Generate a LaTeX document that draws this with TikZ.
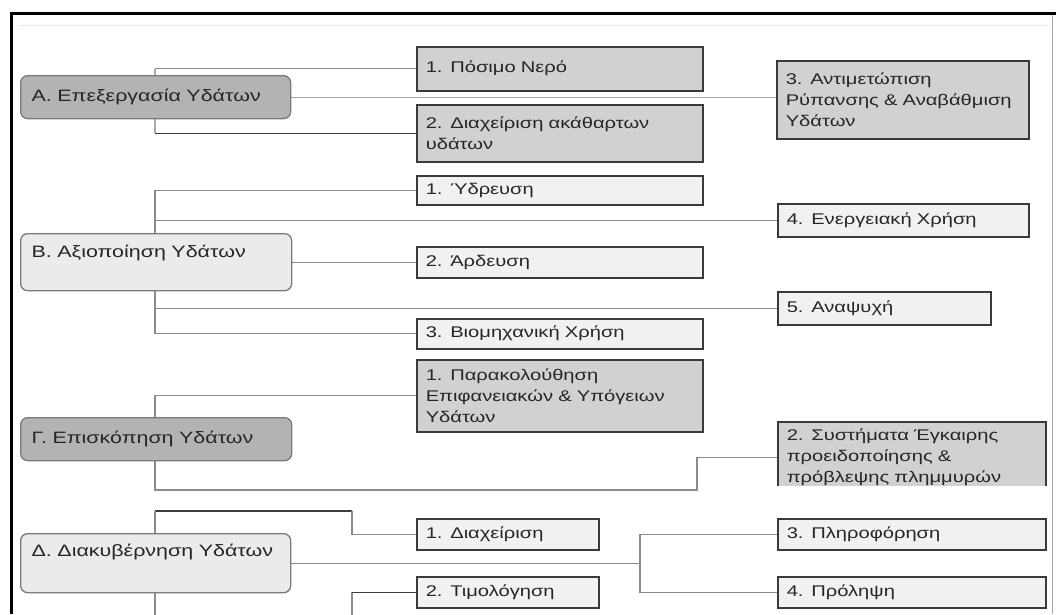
\documentclass[tikz,border=0pt]{standalone}
\usepackage{fontspec}
\newfontfamily\wfont[FakeStretch=1.3]{Liberation Sans}
\usetikzlibrary{backgrounds}
\definecolor{maindark}{HTML}{B3B3B3}
\definecolor{mainedge}{HTML}{7A7A7A}
\definecolor{mainlight}{HTML}{EBEBEB}
\definecolor{subfill}{HTML}{D1D1D1}
\definecolor{lightfill}{HTML}{F1F1F1}
\definecolor{subedge}{HTML}{3A3A3A}
\definecolor{txt}{HTML}{262626}
\definecolor{lnlight}{HTML}{ABABAB}
\definecolor{lnmid}{HTML}{8C8C8C}
\definecolor{lndark}{HTML}{3C3C3C}
\begin{document}
\begin{tikzpicture}[x=1pt,y=-1pt,
  box/.style={anchor=north west, inner xsep=9pt, inner ysep=2pt, align=left, text=txt,
    font=\wfont\fontsize{15.5}{21}\selectfont},
  subdark/.style={box, fill=subfill, draw=subedge, line width=1.5pt},
  sublight/.style={box, fill=lightfill, draw=subedge, line width=1.5pt},
  maindk/.style={box, rounded corners=7pt, fill=maindark, draw=mainedge, line width=1.3pt,
    inner xsep=11pt, text=black!85, font=\wfont\fontsize{16.5}{21}\selectfont},
  mainlt/.style={maindk, fill=mainlight},
  linkl/.style={draw=lnlight, line width=1.3pt},
  linkm/.style={draw=lnmid, line width=1.3pt},
  linkd/.style={draw=lndark, line width=1.3pt}]
\useasboundingbox (0,0) rectangle (1056,614);
\clip (0,0) rectangle (1056,614);

% bus coordinates
\coordinate (bus) at (155,0);
\coordinate (gk) at (697,490);
\coordinate (dk) at (352,0);
\coordinate (dtop) at (155,511);
\coordinate (dbot) at (155,620);
\coordinate (dj) at (640,0);

% A
\node[maindk, minimum width=270pt, minimum height=43pt, text width=248pt] (A) at (20,75) {Α. Επεξεργασία Υδάτων};
\node[subdark, minimum width=286pt, minimum height=44pt, text width=268pt] (A1) at (416,46) {1. Πόσιμο Νερό};
\node[subdark, minimum width=286pt, minimum height=57pt, text width=268pt] (A2) at (416,104) {2. Διαχείριση ακάθαρτων\\υδάτων};
\node[subdark, minimum width=252pt, minimum height=78pt, text width=234pt] (A3) at (776,60) {3. Αντιμετώπιση\\Ρύπανσης \& Αναβάθμιση\\Υδάτων};

% B
\node[mainlt, minimum width=271pt, minimum height=57pt, text width=249pt, text height=12pt, text depth=22pt] (B) at (20,233) {Β. Αξιοποίηση Υδάτων};
\node[sublight, minimum width=286pt, minimum height=29pt, text width=268pt] (B1) at (416,175) {1. Ύδρευση};
\node[sublight, minimum width=286pt, minimum height=31pt, text width=268pt] (B2) at (416,246) {2. Άρδευση};
\node[sublight, minimum width=286pt, minimum height=30pt, text width=268pt] (B3) at (416,318) {3. Βιομηχανική Χρήση};
\node[sublight, minimum width=251pt, minimum height=33pt, text width=233pt] (B4) at (777,203) {4. Ενεργειακή Χρήση};
\node[sublight, minimum width=213pt, minimum height=33pt, text width=195pt] (B5) at (777,291) {5. Αναψυχή};

% Gamma
\node[maindk, minimum width=271pt, minimum height=43pt, text width=249pt] (G) at (20,417) {Γ. Επισκόπηση Υδάτων};
\node[subdark, minimum width=286pt, minimum height=72pt, text width=268pt] (G1) at (416,359) {1. Παρακολούθηση\\Επιφανειακών \& Υπόγειων\\Υδάτων};
\begin{scope}
  \clip (760,400) rectangle (1056,485);
  \node[subdark, minimum width=268pt, minimum height=71pt, text width=250pt] (G2) at (777,421) {2. Συστήματα Έγκαιρης\\προειδοποίησης \&\\πρόβλεψης πλημμυρών};
\end{scope}

% Delta
\node[mainlt, minimum width=270pt, minimum height=59pt, text width=248pt, text height=12pt, text depth=25pt] (D) at (20,533) {Δ. Διακυβέρνηση Υδάτων};
\node[sublight, minimum width=182pt, minimum height=31pt, text width=164pt] (D1) at (416,518) {1. Διαχείριση};
\node[sublight, minimum width=182pt, minimum height=31pt, text width=164pt] (D2) at (416,576) {2. Τιμολόγηση};
\node[sublight, minimum width=268pt, minimum height=31pt, text width=250pt] (D3) at (777,518) {3. Πληροφόρηση};
\node[sublight, minimum width=268pt, minimum height=31pt, text width=250pt] (D4) at (777,576) {4. Πρόληψη};

\begin{pgfonlayer}{background}
  % A connectors
  \draw[linkl] (A1.west -| bus) -- (A2.west -| bus);
  \draw[linkm] (A1.west -| bus) -- (A1.west);
  \draw[linkd] (A2.west -| bus) -- (A2.west);
  \draw[linkl] (A.east) -- (A3.west |- A.east);
  % B connectors
  \draw[linkm] (B1.west) -- (B1.west -| bus) -- (B3.west -| bus) -- (B3.west);
  \draw[linkm] (B4.west -| bus) -- (B4.west);
  \draw[linkm] (B5.west -| bus) -- (B5.west);
  \draw[linkm] (B.east) -- (B2.west |- B.east);
  % Gamma connectors
  \draw[linkm] (G1.west) -- (G1.west -| bus) -- (bus |- gk) -- (gk) -- (gk |- G2.west) -- (G2.west);
  % Delta connectors
  \draw[linkd] (dtop) -- (dk |- dtop);
  \draw[linkm] (dk |- dtop) -- (dk |- D1.west) -- (D1.west);
  \draw[linkm] (dtop) -- (dbot) -- (dk |- dbot) -- (dk |- D2.west);
  \draw[linkd] (dk |- D2.west) -- (D2.west);
  \draw[linkm] (D.east) -- (dj |- D.east);
  \draw[linkm] (D3.west) -- (D3.west -| dj) -- (D4.west -| dj) -- (D4.west);
\end{pgfonlayer}

% frame
\draw[black!8, line width=1pt] (18,25) -- (1050,25);
\draw[black!35, line width=1pt] (1052,14) -- (1052,614);
\draw[black, line width=3pt] (11,614) -- (11,13) -- (1056,13);
\end{tikzpicture}
\end{document}
